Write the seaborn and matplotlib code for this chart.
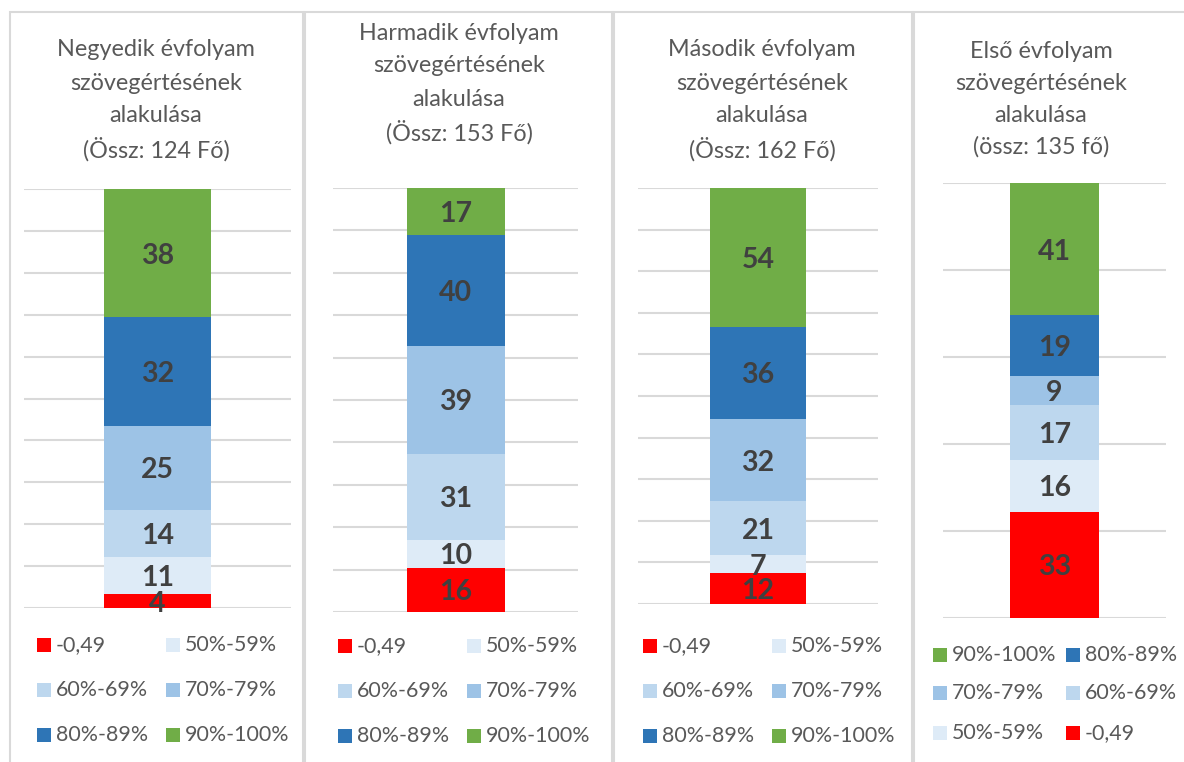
import numpy as np
import pandas as pd
import matplotlib.pyplot as plt
import seaborn as sns
from matplotlib.patches import Rectangle

# grade bands and their colours (bottom to top of the stack)
categories = ["-0,49", "50%-59%", "60%-69%", "70%-79%", "80%-89%", "90%-100%"]
colors = ["#FF0000", "#DEEBF7", "#BDD7EE", "#9DC3E6", "#2E75B6", "#70AD47"]

# head counts per band, one list per grade
negyedik = [4, 11, 14, 25, 32, 38]
harmadik = [16, 10, 31, 39, 40, 17]
masodik = [12, 7, 21, 32, 36, 54]
elso = [33, 16, 17, 9, 19, 41]

titles = [
    ["Negyedik évfolyam", "szövegértésének", "alakulása", "(Össz: 124 Fő)"],
    ["Harmadik évfolyam", "szövegértésének", "alakulása", "(Össz: 153 Fő)"],
    ["Második évfolyam", "szövegértésének", "alakulása", "(Össz: 162 Fő)"],
    ["Első évfolyam", "szövegértésének", "alakulása", "(össz: 135 fő)"],
]

sns.set_style("white")
plt.rcParams["font.family"] = ["Lato", "DejaVu Sans"]

W, H = 1184, 762
fig = plt.figure(figsize=(W / 100, H / 100), dpi=100)


def fx(x):
    return x / W


def fy(y):
    return 1 - y / H


# layout of each panel in pixels
panels = [
    dict(data=negyedik, box=(10, 303), ax=(24, 291, 189, 608), step=10,
         title_x=156, title_y=[50, 83, 116, 149],
         leg_x=(37, 166), leg_y=(645, 690, 735), order=[0, 1, 2, 3, 4, 5]),
    dict(data=harmadik, box=(305, 612), ax=(333, 578, 188, 612), step=10,
         title_x=459, title_y=[33, 66, 99, 132],
         leg_x=(338, 467), leg_y=(646, 691, 736), order=[0, 1, 2, 3, 4, 5]),
    dict(data=masodik, box=(614, 912), ax=(638, 878, 188, 604), step=10,
         title_x=762, title_y=[50, 83, 116, 149],
         leg_x=(643, 772), leg_y=(646, 691, 736), order=[0, 1, 2, 3, 4, 5]),
    dict(data=elso, box=(914, 1195), ax=(943, 1166, 183, 618), step=20,
         title_x=1041, title_y=[51, 83, 115, 147],
         leg_x=(933, 1066), leg_y=(655, 693, 733), order=[5, 4, 3, 2, 1, 0]),
]

text_gray = "#595959"
label_gray = "#404040"
grid_gray = "#D9D9D9"

for p, title in zip(panels, titles):
    # panel frame
    x0, x1 = p["box"]
    fig.patches.append(Rectangle((fx(x0), fy(775)), fx(x1 - x0), (775 - 12) / H,
                                 transform=fig.transFigure, fill=False,
                                 edgecolor=grid_gray, linewidth=1.5))

    # title
    for line, ty in zip(title, p["title_y"]):
        fig.text(fx(p["title_x"]), fy(ty), line, ha="center", va="center",
                 fontsize=16.8, color=text_gray)

    ax_l, ax_r, ax_t, ax_b = p["ax"]
    ax = fig.add_axes([fx(ax_l), fy(ax_b), (ax_r - ax_l) / W, (ax_b - ax_t) / H])

    values = np.array(p["data"])
    pct = values / values.sum() * 100
    cum = np.cumsum(pct)
    df = pd.DataFrame({"band": categories, "pct": pct, "cum": cum, "grp": "x"})

    # 100% stacked column: draw cumulative bars from the top band down
    for i in range(len(categories) - 1, -1, -1):
        sns.barplot(data=df.iloc[[i]], x="grp", y="cum", color=colors[i],
                    saturation=1, width=0.4, linewidth=0, errorbar=None, ax=ax)

    for i in range(len(categories)):
        ax.text(0, cum[i] - pct[i] / 2, str(values[i]), ha="center",
                va="center_baseline", fontsize=20.5, fontweight="bold",
                color=label_gray)

    ax.set_xlim(-0.5, 0.5)
    ax.set_ylim(0, 100)
    ax.set_yticks(np.arange(0, 101, p["step"]))
    ax.set_xticks([])
    ax.set(xlabel="", ylabel="")
    ax.tick_params(left=False, labelleft=False)
    ax.grid(axis="y", color=grid_gray, linewidth=1.5)
    ax.set_axisbelow(True)
    for s in ax.spines.values():
        s.set_visible(False)
    ax.patch.set_alpha(0)

    # legend, two columns, row-major
    for k, idx in enumerate(p["order"]):
        lx = p["leg_x"][k % 2]
        ly = p["leg_y"][k // 2]
        fig.patches.append(Rectangle((fx(lx), fy(ly + 7)), 14 / W, 14 / H,
                                     transform=fig.transFigure,
                                     facecolor=colors[idx], edgecolor="none"))
        fig.text(fx(lx + 19), fy(ly), categories[idx], ha="left", va="center",
                 fontsize=15.4, color=text_gray)

fig.savefig("out.png", dpi=100)
